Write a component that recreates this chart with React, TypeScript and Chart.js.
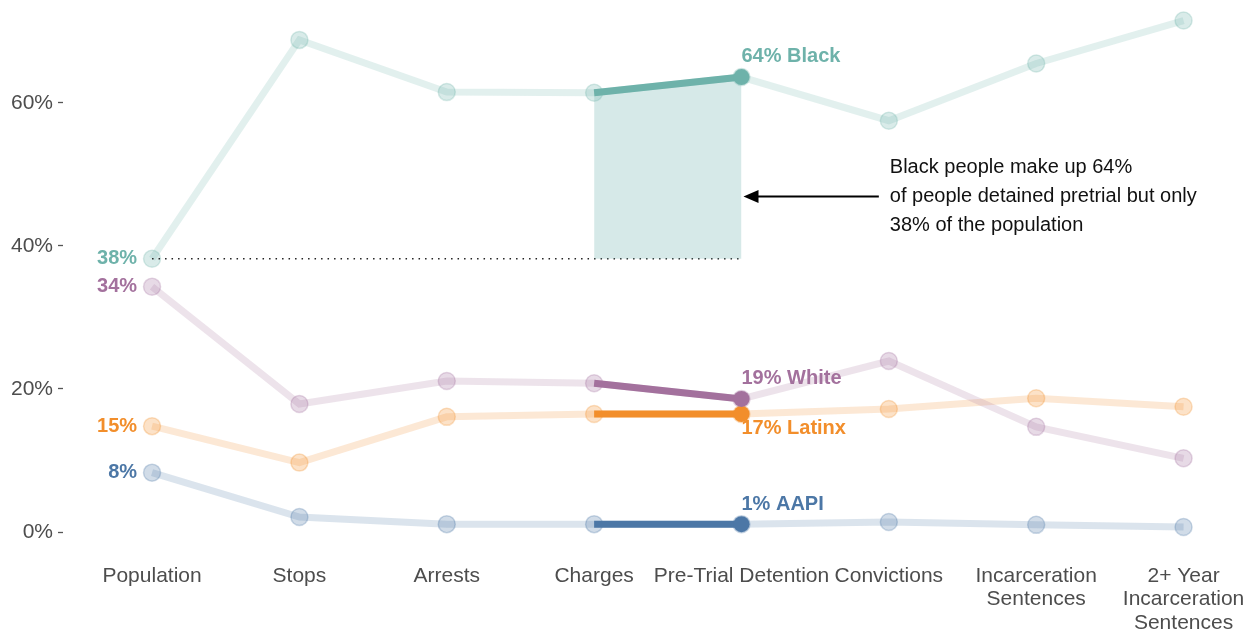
import React, { useEffect, useRef } from "react";
import { Chart, registerables } from "chart.js";
Chart.register(...registerables);

const categoryLines: string[][] = [
  ["Population"],
  ["Stops"],
  ["Arrests"],
  ["Charges"],
  ["Pre-Trial Detention"],
  ["Convictions"],
  ["Incarceration", "Sentences"],
  ["2+ Year", "Incarceration", "Sentences"],
];
const yTicks = [0, 20, 40, 60];

const black = [38.2, 68.8, 61.5, 61.4, 63.6, 57.5, 65.5, 71.5];
const white = [34.3, 17.9, 21.1, 20.8, 18.6, 23.9, 14.7, 10.3];
const latinx = [14.8, 9.7, 16.1, 16.5, 16.5, 17.2, 18.7, 17.5];
const aapi = [8.3, 2.1, 1.1, 1.1, 1.1, 1.4, 1.0, 0.7];

const groupNames = ["Black", "White", "Latinx", "AAPI"];
const groupValues = [black, white, latinx, aapi];

const focusFrom = 3; // Charges
const focusTo = 4; // Pre-Trial Detention

const annotationLines = [
  "Black people make up 64%",
  "of people detained pretrial but only",
  "38% of the population",
];

const FONT = '"Liberation Sans", Arial, Helvetica, sans-serif';
const rgb = ["110,178,170", "163,113,157", "242,142,43", "76,119,166"];
const solid = (i: number) => `rgb(${rgb[i]})`;
const alpha = (i: number, a: number) => `rgba(${rgb[i]},${a})`;
const labelOffsets = [-21, -20, 15, -20];

const toPts = (arr: number[]) => arr.map((v, i) => ({ x: i, y: v }));

const labelPlugin = {
  id: "labelPlugin",
  afterDatasetsDraw(chart: any) {
    const { ctx, scales } = chart;
    const x = scales.x;
    const y = scales.y;
    ctx.save();
    ctx.font = `bold 20px ${FONT}`;
    ctx.textBaseline = "middle";
    ctx.textAlign = "right";
    groupValues.forEach((arr, i) => {
      ctx.fillStyle = solid(i);
      ctx.fillText(`${Math.round(arr[0])}%`, x.getPixelForValue(0) - 15, y.getPixelForValue(arr[0]));
    });
    ctx.textAlign = "left";
    groupValues.forEach((arr, i) => {
      ctx.fillStyle = solid(i);
      ctx.fillText(
        `${Math.round(arr[focusTo])}% ${groupNames[i]}`,
        x.getPixelForValue(focusTo),
        y.getPixelForValue(arr[focusTo]) + labelOffsets[i]
      );
    });
    const tx = x.getPixelForValue(5) + 1;
    const ty = y.getPixelForValue(46.9);
    ctx.font = `20px ${FONT}`;
    ctx.fillStyle = "#111";
    annotationLines.forEach((t, k) => ctx.fillText(t, tx, ty + (k - 1) * 29));
    const ax0 = tx - 11;
    const ax1 = x.getPixelForValue(focusTo) + 2;
    ctx.strokeStyle = "#000";
    ctx.lineWidth = 2;
    ctx.beginPath();
    ctx.moveTo(ax0, ty);
    ctx.lineTo(ax1 + 12, ty);
    ctx.stroke();
    ctx.fillStyle = "#000";
    ctx.beginPath();
    ctx.moveTo(ax1, ty);
    ctx.lineTo(ax1 + 15, ty - 6.5);
    ctx.lineTo(ax1 + 15, ty + 6.5);
    ctx.closePath();
    ctx.fill();
    ctx.restore();
  },
};

export default function App() {
  const ref = useRef<HTMLCanvasElement>(null);
  useEffect(() => {
    if (!ref.current) return;
    const tickFont = { family: FONT, size: 21, lineHeight: 1.12 };
    const focusSets = groupValues.map((arr, i) => ({
      data: [
        { x: focusFrom, y: arr[focusFrom] },
        { x: focusTo, y: arr[focusTo] },
      ],
      borderColor: solid(i),
      borderWidth: 7,
      pointRadius: [0, 8],
      pointBackgroundColor: solid(i),
      pointBorderWidth: 0,
      fill: i === 0 ? { value: black[0] } : false,
      backgroundColor: i === 0 ? "rgba(118,183,178,0.3)" : "transparent",
    }));
    const lightSets = groupValues.map((arr, i) => ({
      data: toPts(arr),
      borderColor: alpha(i, 0.2),
      borderWidth: 7,
      pointRadius: 8.5,
      pointBackgroundColor: alpha(i, 0.26),
      pointBorderColor: alpha(i, 0.28),
      pointBorderWidth: 1.5,
      fill: false,
    }));
    const dotted = {
      data: [
        { x: 0, y: black[0] },
        { x: focusTo, y: black[0] },
      ],
      borderColor: "#222",
      borderWidth: 1.6,
      borderDash: [1.5, 5],
      pointRadius: 0,
      fill: false,
    };
    const chart = new Chart(ref.current, {
      type: "line",
      data: { datasets: [...focusSets, dotted, ...lightSets] as any },
      options: {
        animation: false,
        responsive: false,
        devicePixelRatio: 1,
        events: [],
        clip: false as any,
        layout: { padding: { top: 17, right: 0, left: 0, bottom: 0 } },
        plugins: { legend: { display: false }, tooltip: { enabled: false } },
        elements: { line: { tension: 0, borderCapStyle: "butt" } },
        scales: {
          x: {
            type: "linear",
            min: -0.6043,
            max: 7.417,
            grid: { display: false, drawTicks: false },
            border: { display: false },
            afterBuildTicks: (s: any) => {
              s.ticks = categoryLines.map((_, i) => ({ value: i }));
            },
            afterFit: (s: any) => {
              s.height = 99;
              s.paddingLeft = 0;
              s.paddingRight = 0;
            },
            ticks: {
              padding: 32,
              autoSkip: false,
              maxRotation: 0,
              minRotation: 0,
              color: "#4d4d4d",
              font: tickFont,
              callback: (_v: any, idx: number) => categoryLines[idx] ?? "",
            },
          },
          y: {
            type: "linear",
            min: 0,
            max: 72,
            afterBuildTicks: (s: any) => {
              s.ticks = yTicks.map((v) => ({ value: v }));
            },
            afterFit: (s: any) => {
              s.width = 63;
              s.paddingTop = 0;
              s.paddingBottom = 0;
            },
            grid: {
              drawOnChartArea: false,
              drawTicks: true,
              tickLength: 5,
              tickColor: "#555",
              tickWidth: 1.3,
            },
            border: { display: false },
            ticks: {
              padding: 5,
              color: "#4d4d4d",
              font: tickFont,
              callback: (v: any) => `${v}%`,
            },
          },
        },
      },
      plugins: [labelPlugin],
    });
    return () => chart.destroy();
  }, []);
  return (
    <canvas
      ref={ref}
      width={1255}
      height={631}
      style={{ position: "fixed", left: 0, top: 0, width: 1255, height: 631, display: "block" }}
    />
  );
}
